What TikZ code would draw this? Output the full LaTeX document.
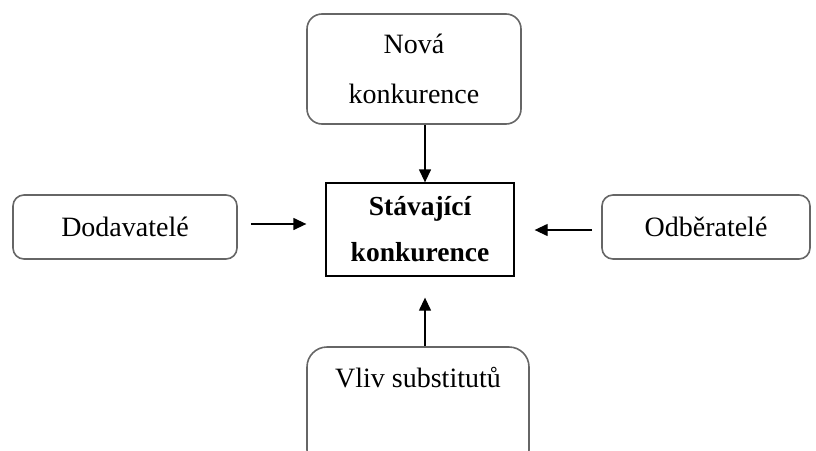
\documentclass[tikz,border=0pt]{standalone}
\usepackage{fontspec}
\setmainfont{Liberation Serif}
\usetikzlibrary{arrows.meta}

\tikzset{
	forcebox/.style={draw=black!60, line width=1.6pt, rounded corners=15pt, align=center, inner sep=0pt},
	rivalbox/.style={draw=black, line width=1.3pt, align=center, inner sep=0pt, font=\fontsize{27.5}{46}\selectfont\bfseries},
	push/.style={-{Triangle[length=13pt,width=12pt]}, line width=1.3pt}
}

\begin{document}
\begin{tikzpicture}[x=1pt,y=-1pt,font=\fontsize{28}{50}\selectfont]
	\useasboundingbox (0,0) rectangle (816,450);
	\clip (0,0) rectangle (816,450);

	%CENTRE
	\node[rivalbox, minimum width=188pt, minimum height=93pt] (rivals) at (420,229.5) {Stávající\\konkurence};

	%FORCES
	\node[forcebox, minimum width=214pt, minimum height=110pt] (entrants) at (414,69) {Nová\\konkurence};
	\node[forcebox, rounded corners=11pt, minimum width=224pt, minimum height=64pt] (suppliers) at (125,227) {Dodavatelé};
	\node[forcebox, rounded corners=11pt, minimum width=208pt, minimum height=64pt] (buyers) at (706,227) {Odběratelé};
	\node[forcebox, rounded corners=20pt, minimum width=222pt, text height=40pt, text depth=83pt, anchor=base] (substitutes) at (418,387) {Vliv substitutů};

	%ARROWS
	\draw[push] ([xshift=11pt]entrants.south) -- ([xshift=11pt]entrants.south |- rivals.north);
	\draw[push, shorten <=13pt, shorten >=19pt] ([yshift=3pt]suppliers.east) -- ([yshift=3pt]suppliers.east -| rivals.west);
	\draw[push, shorten <=9pt, shorten >=20pt] ([yshift=-3pt]buyers.west) -- ([yshift=-3pt]buyers.west -| rivals.east);
	\draw[push, shorten >=21pt] ([xshift=7pt]substitutes.north) -- ([xshift=7pt]substitutes.north |- rivals.south);
\end{tikzpicture}
\end{document}
